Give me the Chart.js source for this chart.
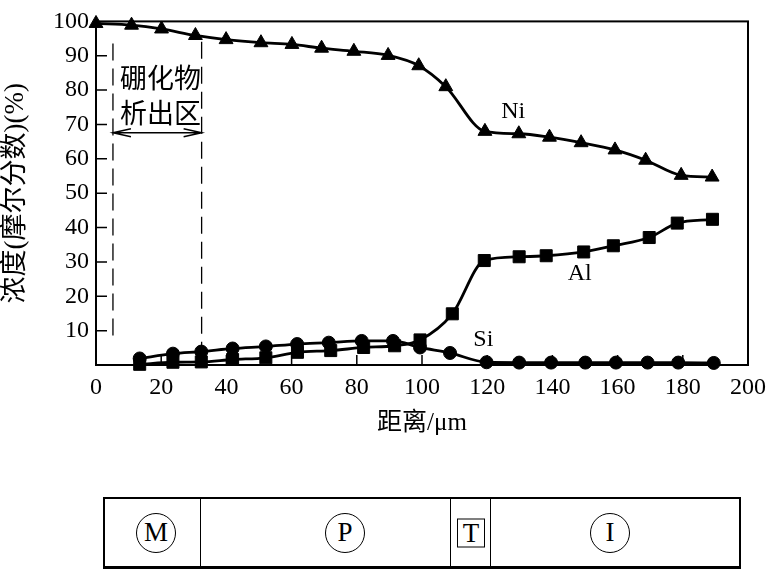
<!DOCTYPE html>
<html>
<head>
<meta charset="utf-8">
<script src="https://cdn.jsdelivr.net/npm/chart.js@4"></script>
<style>
  html, body { margin: 0; padding: 0; background: #fff; }
  #wrap { position: relative; width: 774px; height: 571px; overflow: hidden; }
  #chart { position: absolute; left: 0; top: 0; }
  .strip { position: absolute; left: 103px; top: 497px; width: 638px; height: 72px;
           border: 2px solid #000; border-bottom-width: 3px; box-sizing: border-box; }
  .sep { position: absolute; top: 0; bottom: 0; width: 0; border-left: 1.5px solid #000; }
  .mark { position: absolute; top: 50%; transform: translate(-50%, -50%);
          font-family: "Liberation Serif", serif; font-size: 27px; line-height: 1;
          display: flex; align-items: center; justify-content: center; color: #000; }
  .circ { width: 38px; height: 38px; border: 1.5px solid #000; border-radius: 50%; }
  .box { width: 26px; height: 27px; border: 1.5px solid #000; }
</style>
</head>
<body>
<div id="wrap">
  <canvas id="chart" width="774" height="460"></canvas>
  <div class="strip">
    <div class="sep" style="left:95px"></div>
    <div class="sep" style="left:345px"></div>
    <div class="sep" style="left:385px"></div>
    <div class="mark circ" style="left:51px">M</div>
    <div class="mark circ" style="left:240px">P</div>
    <div class="mark box" style="left:366px">T</div>
    <div class="mark circ" style="left:505px">I</div>
  </div>
</div>
<script>
// --- data (distance in µm, concentration in %) ---
const niX = [0, 10.9, 20.1, 30.5, 39.9, 50.6, 60.1, 69.2, 79.1, 89.6, 99.0, 107.3, 119.3, 129.7, 139.1, 148.8, 159.2, 168.6, 179.5, 189.0];
const niY = [99.4, 98.9, 97.8, 95.9, 94.7, 93.8, 93.3, 92.2, 91.3, 90.1, 87.1, 81.0, 68.0, 67.3, 66.3, 64.7, 62.6, 59.6, 55.2, 54.7];

const alX = [13.4, 23.6, 32.3, 41.9, 52.1, 61.8, 72.0, 82.1, 91.6, 99.4, 109.3, 119.1, 129.8, 138.1, 149.6, 158.7, 169.7, 178.3, 189.1];
const alY = [0.2, 0.8, 0.9, 1.6, 2.1, 3.7, 4.2, 5.1, 5.6, 7.3, 14.9, 30.4, 31.5, 31.8, 32.9, 34.7, 37.1, 41.3, 42.4];

const siX = [13.4, 23.6, 32.3, 41.9, 52.1, 61.7, 71.4, 81.5, 91.1, 99.4, 108.6, 119.8, 129.8, 139.6, 150.1, 159.5, 169.2, 178.6, 189.5];
const siY = [1.9, 3.3, 3.9, 4.8, 5.4, 6.1, 6.5, 7.0, 7.0, 5.1, 3.5, 0.8, 0.7, 0.7, 0.7, 0.7, 0.7, 0.7, 0.6];

const xTicks = [0, 20, 40, 60, 80, 100, 120, 140, 160, 180, 200];
const yTicks = [10, 20, 30, 40, 50, 60, 70, 80, 90, 100];

// annotation text and positions (data units)
const seriesLabels = [
  { text: 'Ni', x: 128, y: 73.7 },
  { text: 'Al', x: 148.4, y: 26.5 },
  { text: 'Si', x: 118.8, y: 7.3 }
];
const zoneLines = [ { x: 5.2, y0: 7, y1: 93.6 }, { x: 32.4, y0: 5.5, y1: 94.1 } ];
const zoneText = [ { text: '硼化物', x: 19.8, y: 82.7 }, { text: '析出区', x: 19.8, y: 72.6 } ];
const zoneArrowY = 67.6;

const serif = "'Liberation Serif', 'Noto Sans CJK SC', serif";
Chart.defaults.font.family = serif;
Chart.defaults.color = '#000';

function pts(xs, ys) { return xs.map((x, i) => ({ x: x, y: ys[i] })); }

// frame, inward ticks and annotations
const decor = {
  id: 'decor',
  afterDraw(chart) {
    const ctx = chart.ctx;
    const a = chart.chartArea;
    const xs = chart.scales.x, ys = chart.scales.y;
    ctx.save();
    ctx.strokeStyle = '#000';
    ctx.lineWidth = 2;
    ctx.strokeRect(a.left, a.top, a.right - a.left, a.bottom - a.top);

    ctx.lineWidth = 1.5;
    ctx.beginPath();
    yTicks.forEach(v => {
      if (v >= 100) return;
      const py = ys.getPixelForValue(v);
      ctx.moveTo(a.left, py); ctx.lineTo(a.left + 11, py);
    });
    xTicks.forEach(v => {
      if (v <= 0 || v >= 200) return;
      const px = xs.getPixelForValue(v);
      ctx.moveTo(px, a.bottom); ctx.lineTo(px, a.bottom - 10);
    });
    ctx.stroke();

    // dashed zone borders
    ctx.setLineDash([17, 8]);
    ctx.lineWidth = 1.3;
    zoneLines.forEach(l => {
      const px = xs.getPixelForValue(l.x);
      ctx.beginPath();
      ctx.moveTo(px, ys.getPixelForValue(l.y1));
      ctx.lineTo(px, ys.getPixelForValue(l.y0));
      ctx.stroke();
    });
    ctx.setLineDash([]);

    // double arrow
    const ay = ys.getPixelForValue(zoneArrowY);
    const ax0 = xs.getPixelForValue(zoneLines[0].x);
    const ax1 = xs.getPixelForValue(zoneLines[1].x);
    ctx.lineWidth = 1.5;
    ctx.beginPath();
    ctx.moveTo(ax0, ay); ctx.lineTo(ax1, ay);
    ctx.moveTo(ax0 + 18, ay - 4); ctx.lineTo(ax0, ay); ctx.lineTo(ax0 + 18, ay + 4);
    ctx.moveTo(ax1 - 18, ay - 4); ctx.lineTo(ax1, ay); ctx.lineTo(ax1 - 18, ay + 4);
    ctx.stroke();

    ctx.fillStyle = '#000';
    ctx.textAlign = 'center';
    ctx.textBaseline = 'middle';
    ctx.font = '27px ' + serif;
    zoneText.forEach(t => ctx.fillText(t.text, xs.getPixelForValue(t.x), ys.getPixelForValue(t.y)));
    ctx.font = '24px ' + serif;
    seriesLabels.forEach(t => ctx.fillText(t.text, xs.getPixelForValue(t.x), ys.getPixelForValue(t.y)));
    ctx.restore();
  }
};

const common = {
  borderColor: '#000',
  backgroundColor: '#000',
  pointBackgroundColor: '#000',
  pointBorderColor: '#000',
  borderWidth: 2.8,
  pointBorderWidth: 1,
  cubicInterpolationMode: 'monotone',
  clip: false
};

new Chart(document.getElementById('chart').getContext('2d'), {
  type: 'line',
  data: {
    datasets: [
      Object.assign({ label: 'Ni', data: pts(niX, niY), pointStyle: 'triangle', pointRadius: 8, order: 3 }, common),
      Object.assign({ label: 'Al', data: pts(alX, alY), pointStyle: 'rect', pointRadius: 8.5, order: 2 }, common),
      Object.assign({ label: 'Si', data: pts(siX, siY), pointStyle: 'circle', pointRadius: 6.5, order: 1 }, common)
    ]
  },
  options: {
    responsive: false,
    animation: false,
    devicePixelRatio: 1,
    layout: { padding: { top: 7, right: 23, left: 0, bottom: 0 } },
    plugins: { legend: { display: false }, tooltip: { enabled: false } },
    scales: {
      x: {
        type: 'linear', min: 0, max: 200,
        afterBuildTicks: s => { s.ticks = xTicks.map(v => ({ value: v })); },
        afterFit: s => { s.height = 95; },
        grid: { display: false, drawTicks: false },
        border: { display: false },
        ticks: { color: '#000', padding: 8, font: { family: serif, size: 24 } },
        title: { display: true, text: '距离/μm', color: '#000',
                 font: { family: serif, size: 25 }, padding: { top: 0, bottom: 22 } }
      },
      y: {
        type: 'linear', min: 0, max: 100,
        afterBuildTicks: s => { s.ticks = yTicks.map(v => ({ value: v })); },
        afterFit: s => { s.width = 96; },
        grid: { display: false, drawTicks: false },
        border: { display: false },
        ticks: { color: '#000', padding: 7, font: { family: serif, size: 24 } },
        title: { display: true, text: '浓度(摩尔分数)(%)', color: '#000',
                 font: { family: serif, size: 27 }, padding: { top: 0, bottom: 0 } }
      }
    }
  },
  plugins: [decor]
});
</script>
</body>
</html>
